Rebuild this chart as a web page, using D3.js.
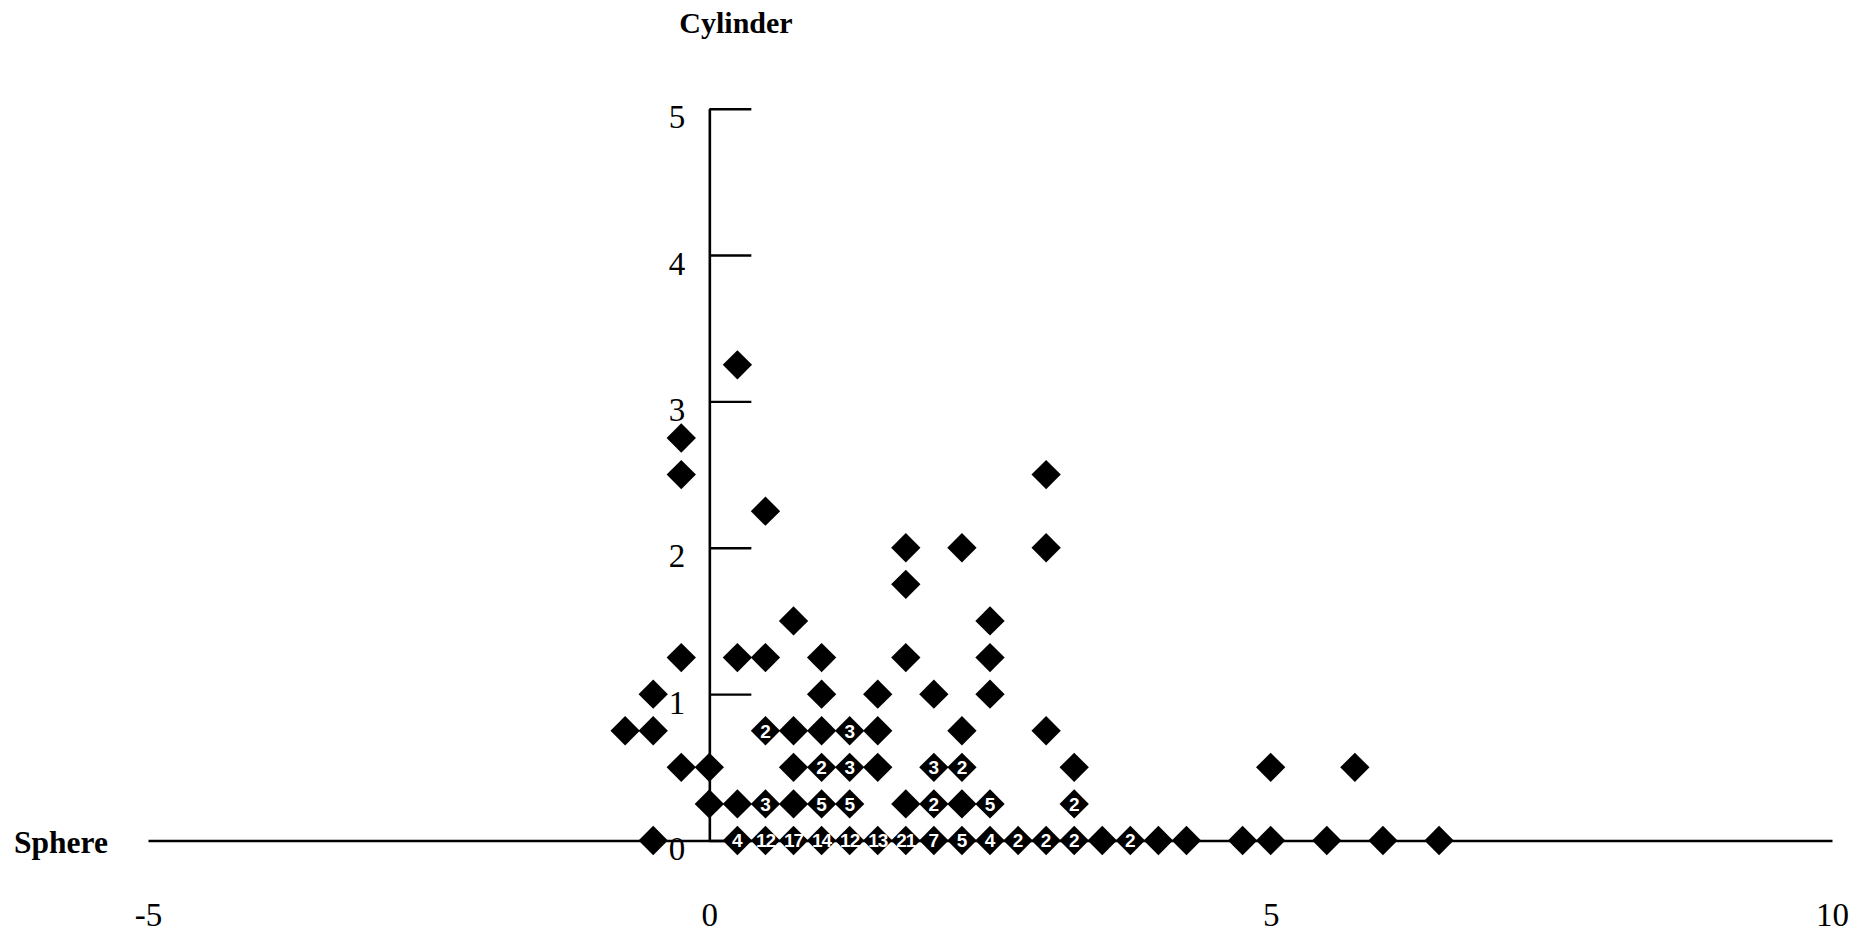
<!DOCTYPE html>
<html>
<head>
<meta charset="utf-8">
<script src="https://cdn.jsdelivr.net/npm/d3@7"></script>
<style>
  body { margin: 0; background: #fff; }
  svg { display: block; }
</style>
</head>
<body>
<svg width="1855" height="932"></svg>
<script>
// cylinder value of each row of points, top to bottom
var cylinderLevels = [3.25, 2.75, 2.5, 2.25, 2, 1.75, 1.5, 1.25, 1, 0.75, 0.5, 0.25, 0];

// sphere values found on each row
var sphereAtLevel = [
  [0.25],
  [-0.25],
  [-0.25, 3],
  [0.5],
  [1.75, 2.25, 3],
  [1.75],
  [0.75, 2.5],
  [-0.25, 0.25, 0.5, 1, 1.75, 2.5],
  [-0.5, 1, 1.5, 2, 2.5],
  [-0.75, -0.5, 0.5, 0.75, 1, 1.25, 1.5, 2.25, 3],
  [-0.25, 0, 0.75, 1, 1.25, 1.5, 2, 2.25, 3.25, 5, 5.75],
  [0, 0.25, 0.5, 0.75, 1, 1.25, 1.75, 2, 2.25, 2.5, 3.25],
  [-0.5, 0.25, 0.5, 0.75, 1, 1.25, 1.5, 1.75, 2, 2.25, 2.5, 2.75, 3, 3.25, 3.5, 3.75, 4, 4.25, 4.75, 5, 5.5, 6, 6.5]
];

// number of eyes at each point (1 = no label)
var countAtLevel = [
  [1],
  [1],
  [1, 1],
  [1],
  [1, 1, 1],
  [1],
  [1, 1],
  [1, 1, 1, 1, 1, 1],
  [1, 1, 1, 1, 1],
  [1, 1, 2, 1, 1, 3, 1, 1, 1],
  [1, 1, 1, 2, 3, 1, 3, 2, 1, 1, 1],
  [1, 1, 3, 1, 5, 5, 1, 2, 1, 5, 2],
  [1, 4, 12, 17, 14, 12, 13, 21, 7, 5, 4, 2, 2, 2, 1, 2, 1, 1, 1, 1, 1, 1, 1]
];

var xTicks = [-5, 0, 5, 10];
var yTicks = [0, 1, 2, 3, 4, 5];

var points = [];
cylinderLevels.forEach(function(c, i) {
  sphereAtLevel[i].forEach(function(s, j) {
    points.push({sphere: s, cylinder: c, count: countAtLevel[i][j]});
  });
});

var svg = d3.select("svg");

var xScale = d3.scaleLinear()
               .domain([-5, 10])
               .range([148, 1832]);
var yScale = d3.scaleLinear()
               .domain([0, 5])
               .range([840.5, 108.7]);

var serif = "'Liberation Serif', 'DejaVu Serif', serif";
var plain = function(d) { return String(d); };   // keep the ascii hyphen on -5

// x axis: plain line, labels far below
var xAxis = svg.append("g")
   .attr("transform", "translate(0," + yScale(0) + ")")
   .call(d3.axisBottom(xScale).tickValues(xTicks).tickFormat(plain)
           .tickSize(0).tickSizeOuter(0));
xAxis.select(".domain").attr("stroke", "#000").attr("stroke-width", 2.6);
xAxis.selectAll("text")
   .attr("y", 85)
   .attr("dy", null)
   .attr("font-family", serif)
   .attr("font-size", 33)
   .attr("fill", "#000");

// y axis at sphere = 0, ticks pointing right
var yAxis = svg.append("g")
   .attr("transform", "translate(" + xScale(0) + ",0)")
   .call(d3.axisLeft(yScale).tickValues(yTicks).tickFormat(plain)
           .tickSizeInner(-42).tickSizeOuter(0));
yAxis.select(".domain").attr("stroke", "#000").attr("stroke-width", 2.6);
yAxis.selectAll(".tick line").attr("stroke", "#000").attr("stroke-width", 2.4);
yAxis.selectAll("text")
   .attr("x", -24)
   .attr("y", 19)
   .attr("dy", null)
   .attr("font-family", serif)
   .attr("font-size", 33)
   .attr("fill", "#000");

// axis titles
svg.append("text")
   .attr("x", 736)
   .attr("y", 33)
   .attr("text-anchor", "middle")
   .attr("font-family", serif)
   .attr("font-weight", "bold")
   .attr("font-size", 30)
   .text("Cylinder");

svg.append("text")
   .attr("x", 14)
   .attr("y", 853)
   .attr("font-family", serif)
   .attr("font-weight", "bold")
   .attr("font-size", 31.5)
   .text("Sphere");

// diamonds
var diamond = d3.symbol().type(d3.symbolSquare).size(430);

svg.append("g")
   .selectAll("path")
   .data(points)
   .join("path")
   .attr("d", diamond)
   .attr("fill", "#000")
   .attr("transform", function(d) {
     return "translate(" + xScale(d.sphere) + "," + yScale(d.cylinder) + ") rotate(45)";
   });

// counts inside diamonds
svg.append("g")
   .selectAll("text")
   .data(points.filter(function(d) { return d.count > 1; }))
   .join("text")
   .attr("x", function(d) { return xScale(d.sphere); })
   .attr("y", function(d) { return yScale(d.cylinder); })
   .attr("dy", "0.36em")
   .attr("text-anchor", "middle")
   .attr("font-family", "'Liberation Sans Narrow', 'Liberation Sans', sans-serif")
   .attr("font-weight", "bold")
   .attr("font-size", 19)
   .attr("fill", "#fff")
   .attr("letter-spacing", function(d) { return d.count > 9 ? -1 : 0; })
   .text(function(d) { return d.count; });
</script>
</body>
</html>
